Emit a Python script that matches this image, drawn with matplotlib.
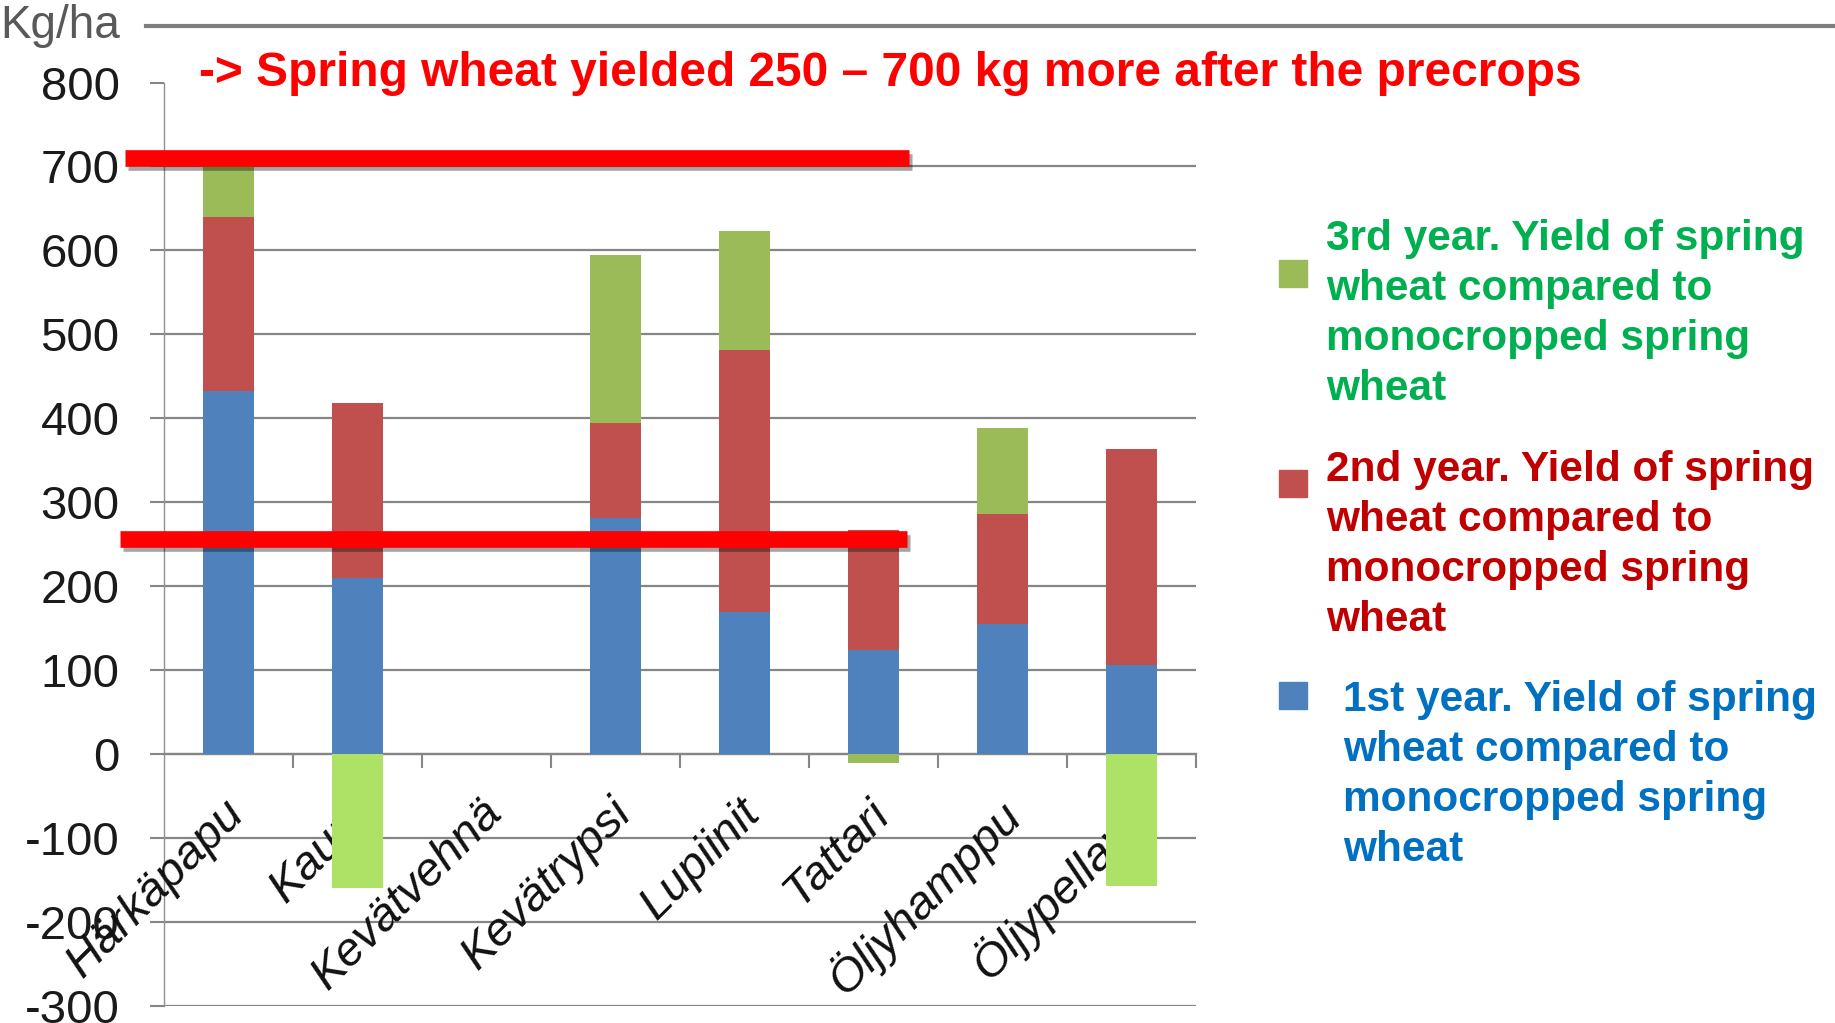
import numpy as np
import matplotlib
matplotlib.use('Agg')
import matplotlib.pyplot as plt
import matplotlib.patheffects as pe
from matplotlib.patches import Rectangle
from matplotlib.lines import Line2D

plt.rcParams['font.family'] = ['Liberation Sans', 'DejaVu Sans']

# Data (kg/ha difference vs monocropped spring wheat)
crops = ['Härkäpapu', 'Kaura', 'Kevätvehnä', 'Kevätrypsi', 'Lupiinit',
         'Tattari', 'Öljyhamppu', 'Öljypellava']
year1 = [432, 210, 0, 281, 169, 124, 155, 106]
year2 = [208, 208, 0, 114, 312, 143, 131, 258]
year3 = [60, -160, 0, 199, 142, -10, 103, -157]

# highlighted range 250 - 700 kg
highlight_levels = [710, 256]
highlight_span = [(-0.80, 5.275), (-0.84, 5.26)]

legend_labels = [
    '3rd year. Yield of spring\nwheat compared to\nmonocropped spring\nwheat',
    '2nd year. Yield of spring\nwheat compared to\nmonocropped spring\nwheat',
    '1st year. Yield of spring\nwheat compared to\nmonocropped spring\nwheat',
]

c_blue = '#4F81BD'
c_red = '#C0504D'
c_green = '#9BBB59'
c_lightgreen = '#AEE266'
grid_c = '#868686'

fig = plt.figure(figsize=(18.35, 10.23), dpi=100)
ax = fig.add_axes([164 / 1835, 1 - 1006 / 1023, (1196 - 164) / 1835, (1006 - 82.5) / 1023])

x = np.arange(len(crops))
y1 = np.array(year1)
y2 = np.array(year2)
y3 = np.array(year3)
bottom3 = np.where(y3 >= 0, y1 + y2, 0)
# the big negative 3rd-year bars are drawn in a lighter green
g_colors = [c_lightgreen if v < -50 else c_green for v in year3]

w = 0.4
ax.bar(x, y1, w, color=c_blue, zorder=4)
ax.bar(x, y2, w, bottom=y1, color=c_red, zorder=4)
ax.bar(x, y3, w, bottom=bottom3, color=g_colors, zorder=4)

ax.set_xlim(-0.5, 7.5)
ax.set_ylim(-300, 800)
ax.set_yticks(range(-300, 801, 100))
ax.set_yticklabels([str(v) for v in range(-300, 801, 100)], fontsize=34, color='#1a1a1a')
ax.tick_params(axis='y', length=10, width=1.5, color=grid_c, pad=22)

ax.set_axisbelow(True)
for v in range(-300, 701, 100):
    ax.axhline(v, color=grid_c, lw=1.6, zorder=1)

# category boundary ticks on the zero line
ax.spines['bottom'].set_position(('data', 0))
ax.spines['bottom'].set_color(grid_c)
ax.spines['bottom'].set_linewidth(1.6)
ax.set_xticks(np.arange(0.5, 8, 1))
ax.set_xticklabels([])
ax.tick_params(axis='x', length=10, width=1.5, color=grid_c, direction='out')
ax.spines['top'].set_visible(False)
ax.spines['right'].set_visible(False)
ax.spines['left'].set_color('#909090')
ax.spines['left'].set_linewidth(1.0)

for i, name in enumerate(crops):
    ax.text(i - 0.05, -44, name, rotation=45, ha='right', va='top', rotation_mode='anchor',
            fontsize=34, style='italic', color='#111111', zorder=3, clip_on=False)

# red highlight lines
for lvl, (xa, xb) in zip(highlight_levels, highlight_span):
    ax.plot([xa, xb], [lvl, lvl], color='#FF0000', lw=12, solid_capstyle='butt',
            zorder=6, clip_on=False,
            path_effects=[pe.SimpleLineShadow(offset=(2, -3), alpha=0.35), pe.Normal()])

# header line, unit and message
fig.add_artist(Line2D([146 / 1835, 1.0], [1 - 26 / 1023, 1 - 26 / 1023],
                      color='#7f7f7f', lw=3))
fig.text(0.0, 1 - 26 / 1023, 'Kg/ha', fontsize=33, color='#595959', va='center', ha='left')
fig.text(199 / 1835, 1 - 73 / 1023,
         '-> Spring wheat yielded 250 \u2013 700 kg more after the precrops',
         fontsize=34.5, fontweight='bold', color='#FF0000', va='center', ha='left')

# legend drawn by hand
sq_colors = [c_green, c_red, c_blue]
txt_colors = ['#00B050', '#C00000', '#0070C0']
sq_y = [260, 470, 682]
txt_x = [1326, 1326, 1343]
txt_top = [219, 450, 680]
for lab, sc, tc, sy, tx, ty in zip(legend_labels, sq_colors, txt_colors, sq_y, txt_x, txt_top):
    fig.add_artist(Rectangle((1279 / 1835, 1 - (sy + 27) / 1023), 28 / 1835, 27 / 1023,
                             color=sc, transform=fig.transFigure))
    fig.text(tx / 1835, 1 - ty / 1023, lab, fontsize=30.5, fontweight='bold', color=tc,
             va='top', ha='left', linespacing=1.32)

fig.savefig('out.png', dpi=100)
